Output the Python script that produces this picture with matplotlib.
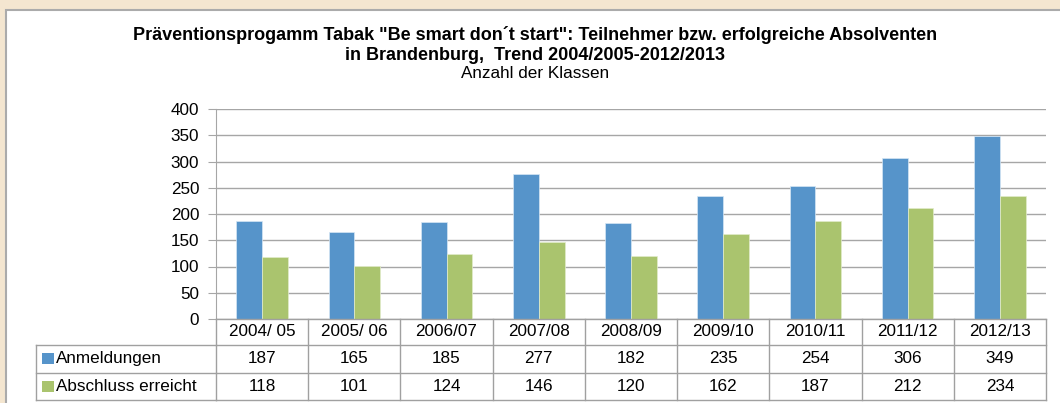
import numpy as np
import matplotlib.pyplot as plt
from matplotlib.patches import Rectangle
from matplotlib.lines import Line2D
from matplotlib.transforms import blended_transform_factory

plt.rcParams['font.family'] = ['Liberation Sans', 'DejaVu Sans']

# data
years = ['2004/ 05', '2005/ 06', '2006/07', '2007/08', '2008/09',
         '2009/10', '2010/11', '2011/12', '2012/13']
anmeldungen = [187, 165, 185, 277, 182, 235, 254, 306, 349]
abschluss = [118, 101, 124, 146, 120, 162, 187, 212, 234]
series_names = ['Anmeldungen', 'Abschluss erreicht']

blue = '#5694CA'
green = '#AAC46E'
gray = '#A6A6A6'
W, H = 1060, 403
fs = 12.3

fig = plt.figure(figsize=(W / 100, H / 100), dpi=100, facecolor='#F4E6D0')

# white panel with frame (runs off the right and bottom edges)
fig.patches.append(Rectangle((6 / W, -0.05), 1.1, 1 - 10 / H + 0.05,
                             transform=fig.transFigure, facecolor='white',
                             edgecolor='#ABABAB', linewidth=1.5, zorder=-5))

ax = fig.add_axes([216 / W, 1 - 319 / H, 830 / W, 210 / H])
ax.set_facecolor('none')

x = np.arange(len(years))
w = 0.28
ax.bar(x - w / 2, anmeldungen, w, color=blue, edgecolor='#D6E6F4', linewidth=0.5, zorder=3)
ax.bar(x + w / 2, abschluss, w, color=green, edgecolor='#E2ECCB', linewidth=0.5, zorder=3)

ax.set_xlim(-0.5, len(years) - 0.5)
ax.set_ylim(0, 400)
ax.set_yticks(range(0, 401, 50))
ax.yaxis.grid(True, color=gray, linewidth=1, zorder=0)
ax.tick_params(axis='y', length=6, color=gray, labelsize=fs, pad=6)
ax.set_xticks([])
for s in ['top', 'right', 'bottom']:
    ax.spines[s].set_visible(False)
ax.spines['left'].set_color(gray)

# titles
fig.text(0.505, 1 - 35 / H, 'Präventionsprogamm Tabak "Be smart don\u00b4t start": Teilnehmer bzw. erfolgreiche Absolventen',
         ha='center', va='center', fontsize=13, fontweight='bold')
fig.text(0.505, 1 - 55 / H, 'in Brandenburg,  Trend 2004/2005-2012/2013',
         ha='center', va='center', fontsize=13, fontweight='bold')
fig.text(0.505, 1 - 74 / H, 'Anzahl der Klassen', ha='center', va='center', fontsize=fs)

# data table
tr = blended_transform_factory(ax.transData, fig.transFigure)
ff = fig.transFigure
rows_y = [319, 345, 372.5, 400]
fy = [1 - v / H for v in rows_y]
lc = '#A0A0A0'

def line(xs, ys, t):
    fig.add_artist(Line2D(xs, ys, transform=t, color=lc, linewidth=1))

# horizontal lines
line([-0.5, len(years) - 0.5], [fy[0], fy[0]], tr)
for yy in fy[1:]:
    line([36 / W, 216 / W], [yy, yy], ff)
    line([-0.5, len(years) - 0.5], [yy, yy], tr)
# vertical lines
line([36 / W, 36 / W], [fy[1], fy[3]], ff)
for b in np.arange(len(years) + 1) - 0.5:
    line([b, b], [fy[0], fy[3]], tr)

for i, yr in enumerate(years):
    fig.text(x[i], (fy[0] + fy[1]) / 2, yr, transform=tr, ha='center', va='center', fontsize=fs)
    fig.text(x[i], (fy[1] + fy[2]) / 2, str(anmeldungen[i]), transform=tr, ha='center', va='center', fontsize=fs)
    fig.text(x[i], (fy[2] + fy[3]) / 2, str(abschluss[i]), transform=tr, ha='center', va='center', fontsize=fs)

for r, (name, col) in enumerate(zip(series_names, [blue, green])):
    yc = (fy[r + 1] + fy[r + 2]) / 2
    fig.patches.append(Rectangle((42 / W, yc - 5.5 / H), 12 / W, 11 / H,
                                 transform=ff, facecolor=col, edgecolor='none'))
    fig.text(56 / W, yc, name, ha='left', va='center', fontsize=fs)

fig.savefig('out.png', dpi=100, facecolor=fig.get_facecolor())
